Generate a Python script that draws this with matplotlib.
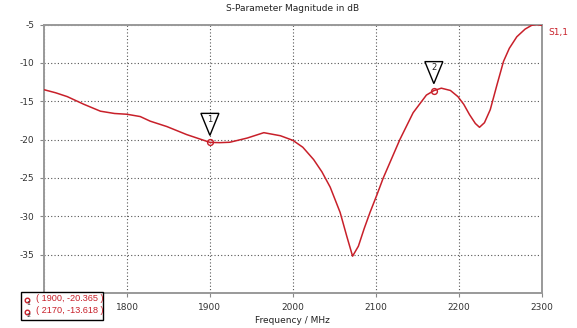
import matplotlib
matplotlib.use("Agg")
import matplotlib.pyplot as plt
from matplotlib import transforms
from matplotlib.patches import Polygon, Rectangle
from matplotlib.lines import Line2D

# S1,1 magnitude trace (MHz, dB)
freq_mhz = [1700, 1714, 1728, 1748, 1768, 1785, 1800, 1816, 1828, 1848, 1872,
            1900, 1912, 1924, 1945, 1965, 1985, 2000, 2012, 2025, 2035, 2045,
            2057, 2065, 2072, 2079, 2086, 2093, 2101, 2109, 2119, 2129, 2145,
            2161, 2170, 2179, 2190, 2199, 2206, 2213, 2220, 2225, 2231, 2238,
            2246, 2254, 2261, 2270, 2280, 2288, 2294, 2300]
s11_db = [-13.5, -13.9, -14.4, -15.4, -16.3, -16.6, -16.7, -17.0, -17.6, -18.3, -19.35,
          -20.365, -20.4, -20.35, -19.8, -19.1, -19.5, -20.1, -21.0, -22.6, -24.2, -26.2,
          -29.5, -32.6, -35.2, -33.9, -31.6, -29.5, -27.3, -25.0, -22.5, -20.0, -16.5,
          -14.2, -13.618, -13.3, -13.6, -14.4, -15.4, -16.75, -17.9, -18.4, -17.8, -16.1,
          -12.9, -9.8, -8.1, -6.6, -5.6, -5.1, -5.0, -5.1]

marker_ids = ["1", "2"]
marker_freq = [1900, 2170]
marker_db = [-20.365, -13.618]

x_ticks = [1700, 1800, 1900, 2000, 2100, 2200, 2300]
x_tick_labels = ["", "1800", "1900", "2000", "2100", "2200", "2300"]
y_ticks = [-40, -35, -30, -25, -20, -15, -10, -5]
y_tick_labels = ["", "-35", "-30", "-25", "-20", "-15", "-10", "-5"]

trace_red = "#c8202a"
plt.rcParams["font.family"] = ["DejaVu Sans"]
readout_font = ["Liberation Sans Narrow", "Liberation Sans", "DejaVu Sans"]

fig = plt.figure(figsize=(5.77, 3.28), dpi=100)
ax = fig.add_axes([0.0763, 0.1067, 0.8625, 0.8186])

ax.plot(freq_mhz, s11_db, color=trace_red, lw=1.1, zorder=3)
ax.plot(marker_freq, marker_db, ls="none", marker="o", ms=4.2, mfc="none",
        mec=trace_red, mew=1.0, zorder=4)

ax.set_xlim(1700, 2300)
ax.set_ylim(-40, -5)
ax.set_xticks(x_ticks)
ax.set_xticklabels(x_tick_labels)
ax.set_yticks(y_ticks)
ax.set_yticklabels(y_tick_labels)
ax.tick_params(labelsize=6.5, colors="#333333", length=3, width=0.8,
               color="#888888", pad=4)
ax.grid(True, ls=(0, (1.0, 2.0)), color="#555555", lw=0.8)
for side in ["left", "bottom", "top", "right"]:
    ax.spines[side].set_color("#999999")
    ax.spines[side].set_linewidth(1.4)

ax.set_title("S-Parameter Magnitude in dB", fontsize=6.5, color="#222222", pad=10)
ax.set_xlabel("Frequency / MHz", fontsize=6.5, color="#222222", labelpad=3)

# marker flags: inverted triangles above each marker point
dpi = fig.dpi
for mid, f, v in zip(marker_ids, marker_freq, marker_db):
    tr = fig.dpi_scale_trans + transforms.ScaledTranslation(f, v, ax.transData)
    tri = Polygon([(-9 / dpi, 29 / dpi), (9 / dpi, 29 / dpi), (0, 7 / dpi)],
                  closed=True, fill=True, facecolor="white", edgecolor="black",
                  lw=1.0, transform=tr, zorder=5)
    ax.add_patch(tri)
    ax.annotate(mid, xy=(f, v), xytext=(0, 23 * 0.72), textcoords="offset points",
                ha="center", va="center", fontsize=6, color="#222222", zorder=6)

# trace name at the right edge
fig.text(548 / 577, 1 - 32 / 328, "S1,1", fontsize=6.5, color=trace_red,
         ha="left", va="center")

# marker readout box
box = Rectangle((21 / 577, 1 - 320 / 328), 82 / 577, 28 / 328,
                transform=fig.transFigure, facecolor="white", edgecolor="black",
                lw=1.0, zorder=10)
fig.add_artist(box)
for i, (mid, f, v) in enumerate(zip(marker_ids, marker_freq, marker_db)):
    ypix = 298.5 + 12 * i
    yf = 1 - ypix / 328
    fig.add_artist(Line2D([26.5 / 577], [yf - 1 / 328], ls="none", marker="o", ms=3.3,
                          mfc="none", mec=trace_red, mew=1.0,
                          transform=fig.transFigure, zorder=11))
    fig.text(28.5 / 577, 1 - (ypix + 5) / 328, mid, fontsize=4.5, color="#222222",
             ha="center", va="center", zorder=11)
    fig.text(36.5 / 577, yf, "( %d, %.3f )" % (f, v), fontsize=6.6,
             family=readout_font, color=trace_red, ha="left", va="center", zorder=11)

fig.savefig("out.png", dpi=100)
